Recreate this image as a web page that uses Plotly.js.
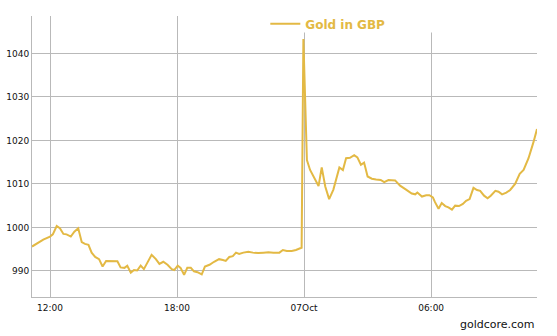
<!DOCTYPE html>
<html>
<head>
<meta charset="utf-8">
<script src="https://cdn.plot.ly/plotly-3.0.1.min.js"></script>
<style>html,body{margin:0;padding:0;background:#fff;}#chart{width:557px;height:336px;}</style>
</head>
<body>
<div id="chart"></div>
<script>
const seriesName = "Gold in GBP";
const times = [
"2016-10-06 11:09","2016-10-06 11:17","2016-10-06 11:26","2016-10-06 11:41","2016-10-06 12:00","2016-10-06 12:08",
"2016-10-06 12:19","2016-10-06 12:28","2016-10-06 12:38","2016-10-06 12:47","2016-10-06 12:59","2016-10-06 13:09",
"2016-10-06 13:20","2016-10-06 13:30","2016-10-06 13:39","2016-10-06 13:49","2016-10-06 13:58","2016-10-06 14:08",
"2016-10-06 14:19","2016-10-06 14:29","2016-10-06 14:39","2016-10-06 14:50","2016-10-06 14:59","2016-10-06 15:11",
"2016-10-06 15:20","2016-10-06 15:31","2016-10-06 15:39","2016-10-06 15:49","2016-10-06 15:58","2016-10-06 16:07",
"2016-10-06 16:17","2016-10-06 16:26","2016-10-06 16:36","2016-10-06 16:48","2016-10-06 17:00","2016-10-06 17:10",
"2016-10-06 17:21","2016-10-06 17:33","2016-10-06 17:45","2016-10-06 17:52","2016-10-06 18:02","2016-10-06 18:10",
"2016-10-06 18:20","2016-10-06 18:29","2016-10-06 18:39","2016-10-06 18:48","2016-10-06 18:58","2016-10-06 19:10",
"2016-10-06 19:19","2016-10-06 19:32","2016-10-06 19:45","2016-10-06 19:59","2016-10-06 20:10","2016-10-06 20:18",
"2016-10-06 20:28","2016-10-06 20:38","2016-10-06 20:47","2016-10-06 20:56","2016-10-06 21:08","2016-10-06 21:22",
"2016-10-06 21:35","2016-10-06 21:50","2016-10-06 22:05","2016-10-06 22:19","2016-10-06 22:33","2016-10-06 22:50",
"2016-10-06 23:00","2016-10-06 23:11","2016-10-06 23:25","2016-10-06 23:37","2016-10-06 23:49","2016-10-06 23:53",
"2016-10-06 23:58","2016-10-07 00:08","2016-10-07 00:17","2016-10-07 00:28","2016-10-07 00:41","2016-10-07 00:50",
"2016-10-07 01:00","2016-10-07 01:11","2016-10-07 01:23","2016-10-07 01:40","2016-10-07 01:50","2016-10-07 01:59",
"2016-10-07 02:10","2016-10-07 02:22","2016-10-07 02:31","2016-10-07 02:41","2016-10-07 02:50","2016-10-07 03:00",
"2016-10-07 03:12","2016-10-07 03:24","2016-10-07 03:37","2016-10-07 03:47","2016-10-07 03:59","2016-10-07 04:18",
"2016-10-07 04:32","2016-10-07 04:49","2016-10-07 05:05","2016-10-07 05:15","2016-10-07 05:21","2016-10-07 05:34",
"2016-10-07 05:46","2016-10-07 05:55","2016-10-07 06:05","2016-10-07 06:11","2016-10-07 06:21","2016-10-07 06:30",
"2016-10-07 06:40","2016-10-07 06:49","2016-10-07 06:59","2016-10-07 07:08","2016-10-07 07:19","2016-10-07 07:30",
"2016-10-07 07:39","2016-10-07 07:49","2016-10-07 08:00","2016-10-07 08:10","2016-10-07 08:19","2016-10-07 08:30",
"2016-10-07 08:40","2016-10-07 08:49","2016-10-07 09:02","2016-10-07 09:11","2016-10-07 09:21","2016-10-07 09:33",
"2016-10-07 09:44","2016-10-07 09:58","2016-10-07 10:11","2016-10-07 10:22","2016-10-07 10:36","2016-10-07 10:50",
"2016-10-07 11:00"
];
const prices = [
995.6,996.0,996.5,997.2,997.9,998.4,
1000.3,999.8,998.5,998.4,997.9,999.0,
999.8,996.6,996.2,996.0,994.2,993.2,
992.7,991.0,992.3,992.3,992.2,992.2,
990.8,990.7,991.2,989.6,990.2,990.1,
991.2,990.4,991.9,993.7,992.7,991.6,
992.1,991.4,990.4,990.2,991.2,990.7,
989.1,990.7,990.7,989.9,989.7,989.2,
991.0,991.4,992.1,992.7,992.5,992.3,
993.2,993.4,994.2,993.9,994.2,994.4,
994.2,994.1,994.2,994.3,994.2,994.2,
994.8,994.6,994.6,994.8,995.2,995.3,
1043.3,1015.5,1013.2,1011.6,1009.5,1013.8,
1009.4,1006.5,1008.7,1013.8,1013.2,1015.9,
1016.0,1016.6,1016.1,1014.4,1014.9,1011.7,
1011.2,1011.0,1010.9,1010.4,1010.9,1010.8,
1009.6,1008.7,1007.8,1007.6,1008.0,1007.1,
1007.4,1007.4,1006.9,1005.8,1004.3,1005.6,
1004.9,1004.6,1004.1,1005.0,1004.9,1005.4,
1006.1,1006.5,1009.1,1008.6,1008.4,1007.3,
1006.7,1007.3,1008.4,1008.2,1007.6,1008.0,
1008.6,1010.0,1012.3,1013.2,1015.9,1019.6,
1022.6
];
const xTickVals = ["2016-10-06 12:00","2016-10-06 18:00","2016-10-07 00:00","2016-10-07 06:00"];
const xTickText = ["12:00","18:00","07Oct","06:00"];
const yTickVals = [990,1000,1010,1020,1030,1040];
const xRange = ["2016-10-06 11:09","2016-10-07 11:00"];
const yRange = [984, 1048.6];
const credit = "goldcore.com";

const gold = "#e3b944";
const grid = "#b9b9b9";
const tickFont = {family: "DejaVu Sans, Verdana, sans-serif", size: 9, color: "#111"};

const trace = {
  x: times, y: prices, type: "scatter", mode: "lines", name: seriesName,
  line: {color: gold, width: 2}, showlegend: true
};

const layout = {
  width: 557, height: 336,
  margin: {l: 32, r: 20, t: 9, b: 39},
  paper_bgcolor: "#fff", plot_bgcolor: "#fff",
  showlegend: true,
  legend: {
    x: 0.462, xanchor: "left", y: 0.972, yanchor: "middle",
    orientation: "h", itemwidth: 30, bgcolor: "rgba(255,255,255,0)",
    font: {family: "DejaVu Sans, Verdana, sans-serif", size: 12, color: gold, weight: "bold"}
  },
  xaxis: {
    type: "date", range: xRange,
    tickmode: "array", tickvals: xTickVals, ticktext: xTickText,
    showgrid: true, gridcolor: grid, gridwidth: 1,
    showline: true, linecolor: grid, linewidth: 1,
    zeroline: false, ticks: "outside", ticklen: 2, tickcolor: "rgba(0,0,0,0)",
    tickfont: tickFont, fixedrange: true
  },
  yaxis: {
    range: yRange, tickmode: "array", tickvals: yTickVals,
    showgrid: true, gridcolor: grid, gridwidth: 1,
    showline: true, linecolor: grid, linewidth: 1,
    zeroline: false, ticks: "", tickfont: tickFont, fixedrange: true
  },
  shapes: [{
    type: "rect", xref: "paper", yref: "paper",
    x0: 0.491, x1: 0.808, y0: 0.941, y1: 1.04,
    fillcolor: "#fff", line: {width: 0}, layer: "above"
  }],
  annotations: [{
    text: credit, xref: "paper", yref: "paper", x: 1, y: -0.097,
    xanchor: "right", yanchor: "middle", showarrow: false,
    font: {family: "DejaVu Sans, Verdana, sans-serif", size: 11, color: "#111"}
  }]
};

Plotly.newPlot("chart", [trace], layout, {displayModeBar: false, staticPlot: true});
</script>
</body>
</html>
